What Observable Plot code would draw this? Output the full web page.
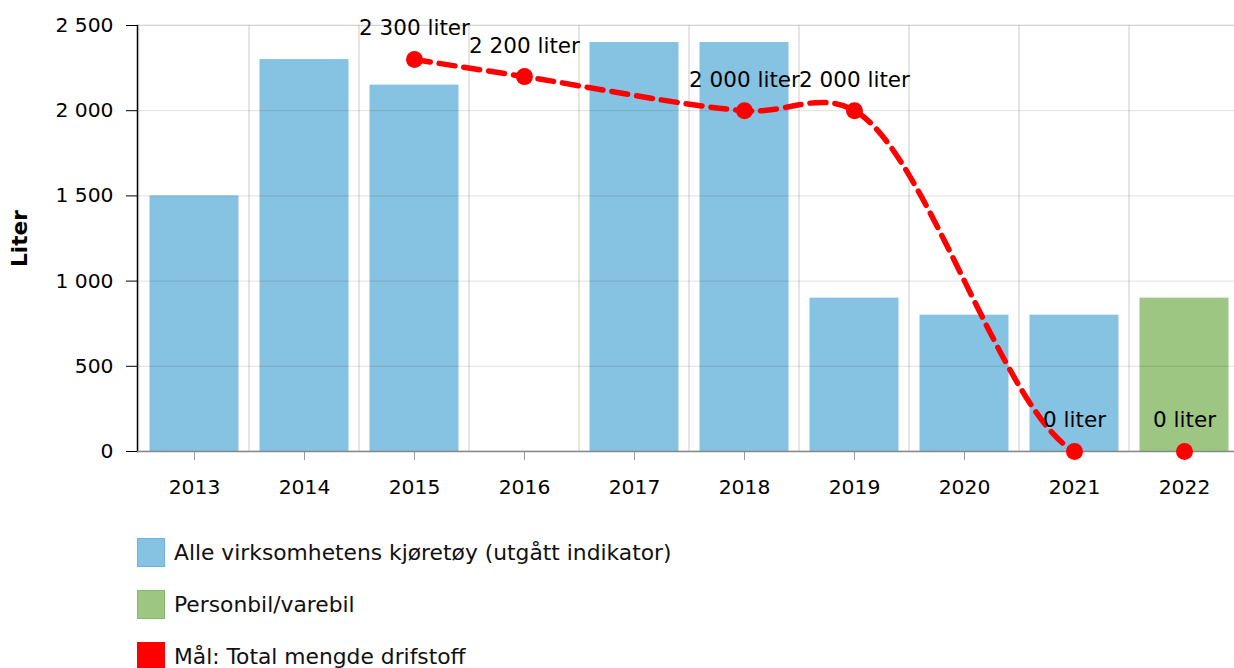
<!DOCTYPE html>
<html>
<head>
<meta charset="utf-8">
<script src="https://cdn.jsdelivr.net/npm/d3@7"></script>
<script src="https://cdn.jsdelivr.net/npm/@observablehq/plot@0.6"></script>
<style>
  html, body { margin: 0; padding: 0; background: #fff; overflow: hidden; }
  body { width: 1234px; height: 668px; font-family: "DejaVu Sans", Verdana, sans-serif; }
  #legend { padding-top: 16px; padding-left: 137px; }
  .row { height: 52px; display: flex; align-items: center; font-size: 21.8px; color: #111; }
  .sw { width: 28px; height: 29px; margin-right: 9px; box-sizing: border-box; }
</style>
</head>
<body>
<div id="chart"></div>
<div id="legend"></div>
<script>
const years = ["2013", "2014", "2015", "2016", "2017", "2018", "2019", "2020", "2021", "2022"];
const alleValues = [1500, 2300, 2150, null, 2400, 2400, 900, 800, 800, null];
const personbilValues = [null, null, null, null, null, null, null, null, null, 900];
const maalValues = [null, null, 2300, 2200, null, 2000, 2000, null, 0, 0];
const yTicks = [0, 500, 1000, 1500, 2000, 2500];
const seriesNames = ["Alle virksomhetens kjøretøy (utgått indikator)", "Personbil/varebil", "Mål: Total mengde drifstoff"];
const seriesColors = ["#86c2e2", "#9dc683", "#ff0000"];
const swatchBorders = ["#6fb3dc", "#88b86b", "#ff0000"];

const fmt = v => d3.format(",")(v).replace(/,/g, " ");

const alleRows = years.map((y, i) => ({year: y, value: alleValues[i]})).filter(d => d.value != null);
const personRows = years.map((y, i) => ({year: y, value: personbilValues[i]})).filter(d => d.value != null);
const goalRows = years.map((y, i) => ({year: y, value: maalValues[i]})).filter(d => d.value != null);

const chart = Plot.plot({
  width: 1234,
  height: 510,
  marginLeft: 137,
  marginRight: 0,
  marginTop: 25,
  marginBottom: 59,
  style: {fontFamily: "DejaVu Sans, Verdana, sans-serif", fontSize: "20px", color: "#000", background: "#fff", overflow: "visible"},
  x: {type: "band", domain: years, range: [136, 1242], padding: 0},
  y: {domain: [0, 2500]},
  marks: [
    Plot.cell(years, {x: d => d, fill: "none", stroke: "#000", strokeOpacity: 0.1}),
    Plot.barY(alleRows, {x: "year", y: "value", fill: seriesColors[0], insetLeft: 10.5, insetRight: 10.5}),
    Plot.barY(personRows, {x: "year", y: "value", fill: seriesColors[1], insetLeft: 10.5, insetRight: 10.5}),
    Plot.gridY(yTicks, {stroke: "#000", strokeOpacity: 0.12}),
    Plot.axisX({tickSize: 9, tickPadding: 19, stroke: "#999", fontSize: 20.3, label: null}),
    Plot.axisY(yTicks, {tickSize: 11, tickPadding: 13, tickFormat: fmt, stroke: "#000", fontSize: 20.3,
      label: "Liter", labelArrow: "none", labelAnchor: "center", labelOffset: 126}),
    Plot.frame({anchor: "left", stroke: "#000", strokeWidth: 1.5}),
    Plot.line(goalRows, {x: "year", y: "value", stroke: seriesColors[2], strokeWidth: 5.5, strokeDasharray: "16,9", curve: "catmull-rom", clip: true}),
    Plot.ruleY([0], {stroke: "#888", strokeWidth: 1.5}),
    Plot.dot(goalRows, {x: "year", y: "value", r: 8.5, fill: seriesColors[2]}),
    Plot.text(goalRows, {x: "year", y: "value", text: d => fmt(d.value) + " liter", dy: -31, fontSize: 21.5, fill: "#000"})
  ]
});
// y-axis title: bold, no arrow
chart.querySelectorAll("text").forEach(t => {
  if (/^\s*Liter/.test(t.textContent) && !/liter/.test(t.textContent)) {
    t.textContent = "Liter";
    t.style.fontWeight = "bold";
    t.style.fontSize = "21.7px";
  }
});
document.getElementById("chart").appendChild(chart);

const legend = document.getElementById("legend");
seriesNames.forEach((name, i) => {
  const row = document.createElement("div");
  row.className = "row";
  const sw = document.createElement("div");
  sw.className = "sw";
  sw.style.background = seriesColors[i];
  sw.style.border = "1px solid " + swatchBorders[i];
  const label = document.createElement("span");
  label.textContent = name;
  row.appendChild(sw);
  row.appendChild(label);
  legend.appendChild(row);
});
</script>
</body>
</html>
